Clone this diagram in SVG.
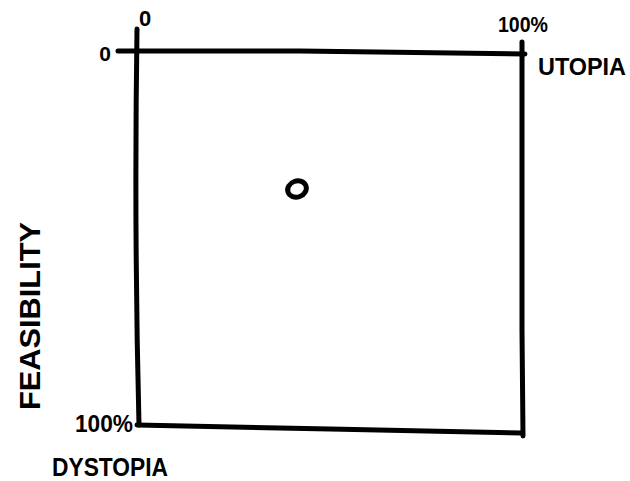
<svg xmlns="http://www.w3.org/2000/svg" width="630" height="481" viewBox="0 0 630 481">
<style>
.ln{fill:none;stroke:#000;stroke-width:5;stroke-linecap:round;stroke-linejoin:round}
.t{font-family:"Liberation Sans",Arial,sans-serif;font-weight:bold;fill:#000}
</style>
<rect width="630" height="481" fill="#fff"/>
<g id="connectors">
<path class="ln" d="M118 51 L300 51 L525 54"/>
<path class="ln" d="M137 29 Q134 230 139 425"/>
<path class="ln" d="M522 42 L522 200 L522 330 L523 436"/>
<path class="ln" d="M137 425 L330 429 L522 433"/>
</g>
<g id="point">
<ellipse cx="297" cy="189" rx="9.5" ry="8" transform="rotate(-20 297 189)" class="ln" stroke-width="6"/>
</g>
<g id="labels">
<text class="t" x="145" y="26" font-size="22" text-anchor="middle">0</text>
<text class="t" x="105" y="61" font-size="21" text-anchor="middle">0</text>
<text class="t" x="498" y="32" font-size="22" textLength="50" lengthAdjust="spacingAndGlyphs">100%</text>
<text class="t" x="538" y="75" font-size="24" textLength="88" lengthAdjust="spacingAndGlyphs">UTOPIA</text>
<text class="t" x="75" y="432" font-size="23" textLength="58" lengthAdjust="spacingAndGlyphs">100%</text>
<text class="t" x="52" y="476" font-size="26" textLength="116" lengthAdjust="spacingAndGlyphs">DYSTOPIA</text>
<text class="t" transform="translate(40 410) rotate(-90)" font-size="30" textLength="188" lengthAdjust="spacingAndGlyphs">FEASIBILITY</text>
</g>
</svg>
